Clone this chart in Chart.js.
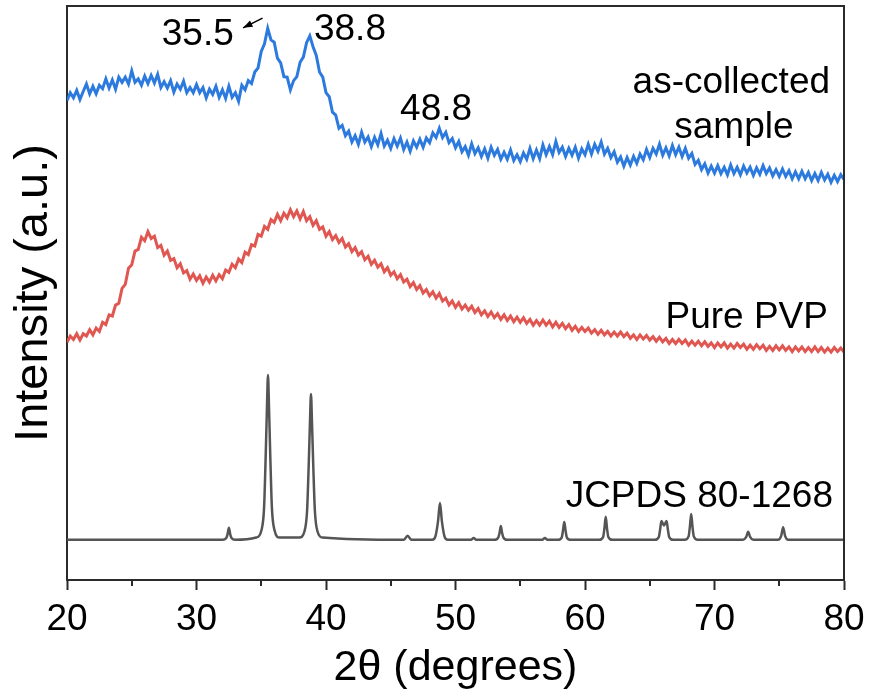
<!DOCTYPE html>
<html>
<head>
<meta charset="utf-8">
<script src="https://cdn.jsdelivr.net/npm/chart.js@4.4.1/dist/chart.umd.min.js"></script>
<style>
  html, body { margin: 0; padding: 0; background: #fff; }
  canvas { display: block; }
</style>
</head>
<body>
<canvas id="xrd" width="873" height="697"></canvas>
<script>
// ---------- DATA (2θ in degrees, intensity in arbitrary units, traces offset) ----------
const twoTheta = [
  20, 20.25, 20.5, 20.75, 21, 21.25, 21.5, 21.75,
  22, 22.25, 22.5, 22.75, 23, 23.25, 23.5, 23.75,
  24, 24.25, 24.5, 24.75, 25, 25.25, 25.5, 25.75,
  26, 26.25, 26.5, 26.75, 27, 27.25, 27.5, 27.75,
  28, 28.25, 28.5, 28.75, 29, 29.25, 29.5, 29.75,
  30, 30.25, 30.5, 30.75, 31, 31.25, 31.5, 31.75,
  32, 32.25, 32.5, 32.75, 33, 33.25, 33.5, 33.75,
  34, 34.25, 34.5, 34.75, 35, 35.25, 35.5, 35.75,
  36, 36.25, 36.5, 36.75, 37, 37.25, 37.5, 37.75,
  38, 38.25, 38.5, 38.75, 39, 39.25, 39.5, 39.75,
  40, 40.25, 40.5, 40.75, 41, 41.25, 41.5, 41.75,
  42, 42.25, 42.5, 42.75, 43, 43.25, 43.5, 43.75,
  44, 44.25, 44.5, 44.75, 45, 45.25, 45.5, 45.75,
  46, 46.25, 46.5, 46.75, 47, 47.25, 47.5, 47.75,
  48, 48.25, 48.5, 48.75, 49, 49.25, 49.5, 49.75,
  50, 50.25, 50.5, 50.75, 51, 51.25, 51.5, 51.75,
  52, 52.25, 52.5, 52.75, 53, 53.25, 53.5, 53.75,
  54, 54.25, 54.5, 54.75, 55, 55.25, 55.5, 55.75,
  56, 56.25, 56.5, 56.75, 57, 57.25, 57.5, 57.75,
  58, 58.25, 58.5, 58.75, 59, 59.25, 59.5, 59.75,
  60, 60.25, 60.5, 60.75, 61, 61.25, 61.5, 61.75,
  62, 62.25, 62.5, 62.75, 63, 63.25, 63.5, 63.75,
  64, 64.25, 64.5, 64.75, 65, 65.25, 65.5, 65.75,
  66, 66.25, 66.5, 66.75, 67, 67.25, 67.5, 67.75,
  68, 68.25, 68.5, 68.75, 69, 69.25, 69.5, 69.75,
  70, 70.25, 70.5, 70.75, 71, 71.25, 71.5, 71.75,
  72, 72.25, 72.5, 72.75, 73, 73.25, 73.5, 73.75,
  74, 74.25, 74.5, 74.75, 75, 75.25, 75.5, 75.75,
  76, 76.25, 76.5, 76.75, 77, 77.25, 77.5, 77.75,
  78, 78.25, 78.5, 78.75, 79, 79.25, 79.5, 79.75,
  80
];

const asCollected = [
  83.5, 84.9, 84.0, 85.3, 83.7, 85.1, 86.4, 84.7,
  86.0, 84.7, 86.2, 85.6, 87.3, 85.7, 87.1, 85.5,
  87.6, 86.7, 87.6, 86.4, 88.7, 86.7, 87.3, 86.2,
  87.8, 86.5, 87.9, 86.6, 88.1, 85.8, 86.8, 85.7,
  87.0, 85.0, 86.4, 85.5, 86.9, 84.9, 85.8, 84.9,
  86.3, 84.9, 85.8, 84.0, 85.5, 84.6, 86.0, 84.1,
  85.4, 83.9, 86.0, 84.1, 84.9, 83.4, 86.2, 85.4,
  87.0, 86.5, 88.5, 89.2, 92.1, 93.4, 96.1, 94.1,
  93.7, 90.9, 90.1, 87.7, 87.6, 85.4, 87.0, 87.7,
  90.2, 91.1, 93.6, 94.8, 92.9, 91.4, 88.5, 87.6,
  84.9, 84.2, 81.5, 81.0, 78.7, 79.2, 77.4, 78.2,
  76.3, 77.4, 75.9, 78.0, 76.3, 77.2, 75.5, 77.1,
  75.8, 77.8, 75.6, 76.6, 75.2, 76.9, 75.6, 77.0,
  75.0, 76.3, 74.7, 76.5, 75.4, 76.8, 75.4, 77.0,
  76.2, 77.9, 77.1, 78.7, 77.1, 78.0, 76.2, 76.9,
  75.3, 76.4, 74.6, 75.5, 74.0, 76.0, 74.3, 75.3,
  73.8, 75.1, 73.5, 75.4, 74.0, 75.0, 73.3, 74.5,
  73.3, 74.9, 73.1, 74.1, 72.9, 74.4, 73.3, 75.2,
  73.4, 74.9, 73.4, 75.8, 74.1, 75.5, 74.1, 76.4,
  74.5, 75.4, 73.8, 75.2, 74.0, 75.4, 73.5, 75.1,
  74.1, 75.9, 74.2, 75.9, 74.7, 76.3, 74.2, 75.2,
  73.6, 74.6, 72.8, 73.7, 72.1, 73.6, 72.3, 73.8,
  72.6, 74.2, 73.2, 75.0, 73.6, 75.2, 74.2, 75.9,
  74.0, 75.3, 73.9, 75.7, 74.1, 75.4, 73.8, 75.2,
  73.5, 74.3, 72.4, 73.1, 71.5, 72.5, 70.9, 72.1,
  70.9, 72.2, 70.8, 71.9, 70.6, 72.3, 70.8, 71.9,
  70.6, 72.1, 70.9, 71.9, 70.5, 71.8, 70.7, 72.2,
  70.8, 71.8, 70.4, 71.5, 70.3, 71.6, 70.3, 71.3,
  69.9, 71.1, 69.9, 71.2, 69.9, 71.0, 69.6, 70.8,
  69.6, 71.0, 69.7, 70.7, 69.3, 70.5, 69.4, 70.6,
  69.8
];

const purePVP = [
  41.4, 42.5, 41.9, 42.9, 41.8, 42.9, 42.5, 43.6,
  42.7, 43.9, 43.3, 44.9, 44.5, 46.2, 46.0, 47.9,
  48.2, 50.8, 51.5, 54.3, 54.9, 57.3, 57.6, 59.7,
  59.1, 60.7, 59.5, 59.9, 57.9, 58.3, 56.6, 57.3,
  55.7, 56.0, 54.4, 55.1, 53.5, 53.9, 52.4, 53.3,
  52.2, 53.0, 51.7, 52.8, 51.9, 53.1, 52.1, 53.2,
  52.5, 54.0, 53.6, 55.0, 54.4, 55.9, 55.3, 57.1,
  56.7, 58.4, 58.2, 60.2, 59.9, 61.6, 61.1, 62.8,
  62.3, 63.7, 62.6, 63.9, 63.1, 64.5, 63.3, 64.3,
  62.9, 64.2, 62.6, 63.3, 61.8, 62.6, 61.1, 61.5,
  59.9, 60.7, 59.3, 60.0, 58.8, 59.5, 58.0, 58.6,
  57.2, 57.9, 56.6, 57.2, 55.8, 56.4, 55.0, 55.7,
  54.5, 55.1, 53.7, 54.4, 53.1, 53.7, 52.5, 53.2,
  51.9, 52.4, 51.1, 51.8, 50.6, 51.3, 50.0, 50.6,
  49.5, 50.2, 49.1, 49.9, 48.6, 49.1, 47.9, 48.6,
  47.5, 48.3, 47.2, 47.9, 47.0, 47.7, 46.6, 47.3,
  46.2, 46.9, 45.9, 46.7, 45.7, 46.4, 45.4, 46.2,
  45.2, 46.0, 45.0, 45.8, 44.9, 45.7, 44.7, 45.4,
  44.4, 45.2, 44.4, 45.3, 44.4, 45.1, 44.1, 44.9,
  44.0, 44.7, 43.8, 44.5, 43.5, 44.2, 43.3, 44.0,
  43.3, 43.9, 43.0, 43.6, 42.8, 43.5, 42.7, 43.3,
  42.5, 43.2, 42.5, 43.2, 42.4, 43.0, 42.1, 42.7,
  41.9, 42.7, 42.0, 42.6, 41.8, 42.4, 41.6, 42.3,
  41.5, 42.1, 41.2, 41.9, 41.2, 41.9, 41.2, 41.8,
  40.9, 41.6, 40.9, 41.6, 40.8, 41.5, 40.7, 41.3,
  40.5, 41.3, 40.6, 41.3, 40.4, 41.1, 40.4, 41.2,
  40.5, 41.1, 40.2, 40.9, 40.2, 41.0, 40.3, 40.9,
  40.0, 40.7, 40.0, 40.8, 40.1, 40.8, 40.0, 40.6,
  39.8, 40.6, 39.9, 40.6, 39.8, 40.5, 39.8, 40.6,
  39.8, 40.5, 39.7, 40.4, 39.7, 40.5, 39.8, 40.4,
  39.7
];

// JCPDS 80-1268 reference pattern (peak profiles)
const jcpdsX = [
  20, 32.0, 32.3, 32.4, 32.5, 32.6, 32.7, 33.0,
  34.62, 35.02, 35.22, 35.34, 35.44, 35.52, 35.60, 35.70, 35.82, 36.02, 36.42,
  37.94, 38.34, 38.54, 38.66, 38.76, 38.84, 38.92, 39.02, 39.14, 39.34, 39.74,
  46.0, 46.3, 46.6,
  48.2, 48.45, 48.65, 48.8, 48.95, 49.15, 49.4,
  51.2, 51.4, 51.6,
  53.0, 53.3, 53.4, 53.5, 53.6, 53.7, 54.0,
  56.7, 56.9, 57.1,
  57.9, 58.2, 58.3, 58.4, 58.5, 58.6, 58.9,
  61.1, 61.4, 61.5, 61.6, 61.7, 61.8, 62.1,
  65.4, 65.7, 65.8, 65.9, 66.1, 66.3, 66.4, 66.5, 66.8,
  67.7, 68.0, 68.1, 68.2, 68.3, 68.4, 68.7,
  72.2, 72.45, 72.6, 72.75, 73.0,
  74.9, 75.15, 75.3, 75.45, 75.7,
  80
];
const jcpdsY = [
  7.0, 7.0, 7.3, 8.0, 9.1, 8.0, 7.3, 7.0,
  7.4, 8.7, 12.7, 21.4, 30.0, 35.7, 30.0, 21.4, 12.7, 8.7, 7.4,
  7.4, 8.5, 12.1, 19.7, 27.3, 32.4, 27.3, 19.7, 12.1, 8.5, 7.4,
  7.0, 7.7, 7.0,
  7.0, 7.6, 10.2, 13.4, 10.2, 7.6, 7.0,
  7.0, 7.3, 7.0,
  7.0, 7.4, 8.2, 9.4, 8.2, 7.4, 7.0,
  7.0, 7.3, 7.0,
  7.0, 7.4, 8.6, 10.1, 8.6, 7.4, 7.0,
  7.0, 7.5, 9.0, 11.0, 9.0, 7.5, 7.0,
  7.0, 7.5, 8.8, 10.3, 9.5, 10.3, 8.8, 7.5, 7.0,
  7.0, 7.6, 9.3, 11.5, 9.3, 7.6, 7.0,
  7.0, 7.5, 8.4, 7.5, 7.0,
  7.0, 7.7, 9.2, 7.7, 7.0,
  7.0
];

const xTicks = [20, 30, 40, 50, 60, 70, 80];
const xMinorTicks = [25, 35, 45, 55, 65, 75];

// labels placed in data coordinates [text, 2θ, intensity, align]
const labels = [
  ["35.5", 30.1, 93.2, "center"],
  ["38.8", 41.85, 94.1, "center"],
  ["48.8", 48.5, 80.1, "center"],
  ["as-collected", 71.3, 84.8, "center"],
  ["sample", 71.5, 77.0, "center"],
  ["Pure PVP", 78.76, 43.9, "right"],
  ["JCPDS 80-1268", 79.15, 12.7, "right"]
];
const arrowFrom = [35.1, 97.9];
const arrowTo = [33.6, 96.2];

// ---------- HELPERS ----------
const FONT = '"Liberation Sans", Arial, sans-serif';
const AXIS = "#2b2b2b";
const pts = (xs, ys) => xs.map((x, i) => ({ x, y: ys[i] }));

const decor = {
  id: "decor",
  afterDraw(chart) {
    const { ctx, chartArea: a, scales: { x, y } } = chart;
    ctx.save();
    // top and right frame
    ctx.strokeStyle = AXIS;
    ctx.lineWidth = 2;
    ctx.beginPath();
    ctx.moveTo(a.left, a.top);
    ctx.lineTo(a.right, a.top);
    ctx.lineTo(a.right, a.bottom);
    ctx.stroke();
    // minor ticks
    xMinorTicks.forEach(v => {
      const px = Math.round(x.getPixelForValue(v));
      ctx.beginPath();
      ctx.moveTo(px, a.bottom);
      ctx.lineTo(px, a.bottom + 6);
      ctx.stroke();
    });
    // text labels
    ctx.fillStyle = "#000";
    ctx.font = "37px " + FONT;
    ctx.textBaseline = "alphabetic";
    labels.forEach(([t, vx, vy, al]) => {
      ctx.textAlign = al;
      ctx.fillText(t, x.getPixelForValue(vx), y.getPixelForValue(vy));
    });
    // arrow near 35.5
    const x0 = x.getPixelForValue(arrowFrom[0]), y0 = y.getPixelForValue(arrowFrom[1]);
    const x1 = x.getPixelForValue(arrowTo[0]), y1 = y.getPixelForValue(arrowTo[1]);
    const ang = Math.atan2(y1 - y0, x1 - x0);
    ctx.strokeStyle = "#000";
    ctx.lineWidth = 1.5;
    ctx.beginPath();
    ctx.moveTo(x0, y0);
    ctx.lineTo(x1, y1);
    ctx.stroke();
    ctx.fillStyle = "#000";
    ctx.beginPath();
    ctx.moveTo(x1, y1);
    ctx.lineTo(x1 - 10 * Math.cos(ang - 0.35), y1 - 10 * Math.sin(ang - 0.35));
    ctx.lineTo(x1 - 10 * Math.cos(ang + 0.35), y1 - 10 * Math.sin(ang + 0.35));
    ctx.closePath();
    ctx.fill();
    ctx.restore();
  }
};

// ---------- CHART ----------
new Chart(document.getElementById("xrd"), {
  type: "line",
  data: {
    datasets: [
      { label: "as-collected sample", data: pts(twoTheta, asCollected), borderColor: "rgb(44,122,222)", borderWidth: 3, tension: 0 },
      { label: "Pure PVP", data: pts(twoTheta, purePVP), borderColor: "rgb(224,86,80)", borderWidth: 3, tension: 0 },
      { label: "JCPDS 80-1268", data: pts(jcpdsX, jcpdsY), borderColor: "rgb(85,85,85)", borderWidth: 2.5, cubicInterpolationMode: "monotone" }
    ]
  },
  options: {
    responsive: false,
    animation: false,
    layout: { padding: { top: 6, right: 29, left: 0, bottom: 0 } },
    elements: { point: { radius: 0 } },
    plugins: { legend: { display: false }, tooltip: { enabled: false } },
    scales: {
      x: {
        type: "linear", min: 20, max: 80,
        afterBuildTicks: s => { s.ticks = xTicks.map(v => ({ value: v })); },
        ticks: { color: "#000", font: { size: 37, family: FONT }, padding: 8, maxRotation: 0 },
        grid: { drawOnChartArea: false, drawTicks: true, tickLength: 10, tickWidth: 2, tickColor: AXIS },
        border: { display: true, color: AXIS, width: 2 },
        title: { display: true, text: "2θ (degrees)", color: "#000", font: { size: 43, family: FONT }, padding: { top: 0, bottom: 3 } },
        afterFit: s => { s.height = 117; }
      },
      y: {
        min: 0, max: 100,
        ticks: { display: false },
        grid: { display: false, drawTicks: false },
        border: { display: true, color: AXIS, width: 2 },
        title: { display: true, text: "Intensity (a.u.)", color: "#000", font: { size: 47, family: FONT }, padding: { top: 6, bottom: 0 } },
        afterFit: s => { s.width = 67; }
      }
    }
  },
  plugins: [decor]
});
</script>
</body>
</html>
